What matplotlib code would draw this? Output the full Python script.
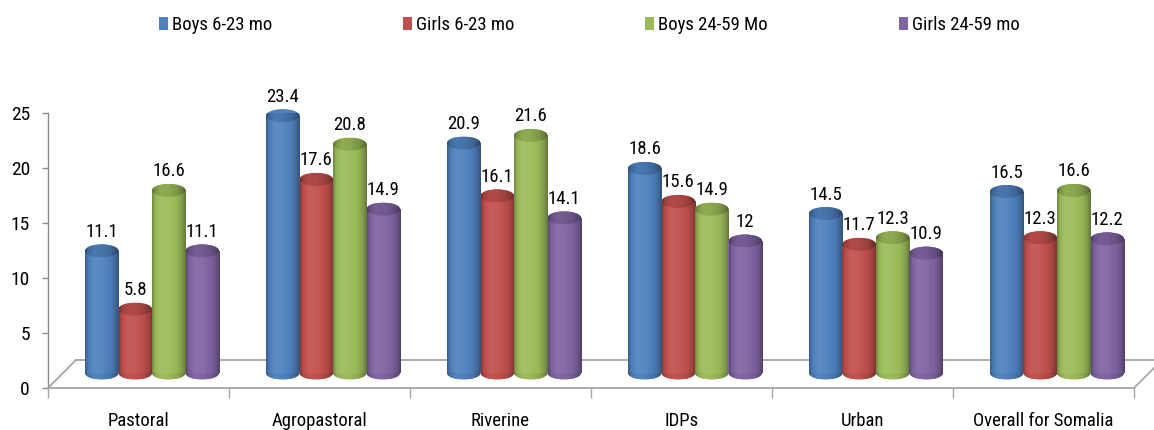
import numpy as np
import matplotlib
matplotlib.use("Agg")
import matplotlib.pyplot as plt
import matplotlib.transforms as mtransforms
from matplotlib.patches import Ellipse, Rectangle
from matplotlib.lines import Line2D
from matplotlib.colors import to_rgb

plt.rcParams["font.family"] = ["Roboto Condensed", "DejaVu Sans"]

# ---- data -------------------------------------------------------------
categories = ["Pastoral", "Agropastoral", "Riverine", "IDPs", "Urban", "Overall for Somalia"]
series_names = ["Boys 6-23 mo", "Girls 6-23 mo", "Boys 24-59 Mo", "Girls 24-59 mo"]
boys_6_23 = [11.1, 23.4, 20.9, 18.6, 14.5, 16.5]
girls_6_23 = [5.8, 17.6, 16.1, 15.6, 11.7, 12.3]
boys_24_59 = [16.6, 20.8, 21.6, 14.9, 12.3, 16.6]
girls_24_59 = [11.1, 14.9, 14.1, 12, 10.9, 12.2]
y_ticks = [0, 5, 10, 15, 20, 25]

series_values = [boys_6_23, girls_6_23, boys_24_59, girls_24_59]
colors = ["#4F81BD", "#C0504D", "#9BBB59", "#8064A2"]

# ---- figure -----------------------------------------------------------
W, H = 1154, 430
DPI = 100
fig = plt.figure(figsize=(W / DPI, H / DPI), dpi=DPI)
ax = fig.add_axes([48 / W, (H - 388) / H, 1086 / W, 275 / H])
ax.set_xlim(0, len(categories))
ax.set_ylim(0, 25)

FS = 13.5
AXIS_GREY = "#8C8C8C"
FLOOR_GREY = "#A6A6A6"
px_per_unit = ax.bbox.height / 25.0
n = len(categories)

# depth offsets (pixels) for the pseudo-3D look
DEPTH = 28
BAR_DX, BAR_DY = 13.5, 15
shift = ax.transData + mtransforms.ScaledTranslation(BAR_DX / DPI, BAR_DY / DPI, fig.dpi_scale_trans)
back = ax.transData + mtransforms.ScaledTranslation(DEPTH / DPI, DEPTH / DPI, fig.dpi_scale_trans)

# floor outline: back edge plus the two side edges
ax.add_line(Line2D([0, n + 1], [0, 0], transform=back, color=FLOOR_GREY, lw=1.3,
                   clip_on=False, zorder=1))
for xe in (0, n):
    p0 = ax.transData.transform((xe, 0))
    p1 = back.transform((xe, 0))
    ax.add_line(Line2D([p0[0], p1[0]], [p0[1], p1[1]], transform=None, color=FLOOR_GREY,
                       lw=1.3, clip_on=False, zorder=1))


def shaded_strip(rgb, offset=0.0, n=64):
    """Horizontal light/shade profile that makes a flat bar read as a cylinder."""
    t = np.linspace(0, 1, n)
    k = np.interp(t, [0, 0.08, 0.25, 0.5, 0.75, 0.9, 1.0],
                  [-0.28, -0.05, 0.08, 0.06, -0.04, -0.18, -0.36]) + offset
    rgb = np.array(rgb)
    kk = k[:, None]
    out = np.where(kk >= 0, rgb + (1 - rgb) * kk, rgb * (1 + kk))
    return np.clip(out, 0, 1)[None, :, :]


def gradient_fill(patch, x0, x1, y0, y1, strip, z):
    im = ax.imshow(strip, extent=(x0, x1, y0, y1), aspect="auto", transform=shift,
                   zorder=z, interpolation="bilinear")
    im.set_clip_path(patch)


bar_w = 33.5 / (ax.bbox.width / n)
ell_h = 13 / px_per_unit
centers = np.arange(n) + 0.5
label_trans = shift + mtransforms.ScaledTranslation(0, 14 / DPI, fig.dpi_scale_trans)

for i, (vals, col) in enumerate(zip(series_values, colors)):
    rgb = to_rgb(col)
    xs = centers + (i - 1.5) * bar_w
    base_z = 2 + i * 0.1
    bars = ax.bar(xs, vals, width=bar_w, color=col, linewidth=0, transform=shift,
                  zorder=base_z + 0.02, clip_on=False)
    body_strip = shaded_strip(rgb)
    bottom_strip = shaded_strip(rgb, offset=-0.06)
    top_strip = shaded_strip(rgb, offset=-0.16)
    for x, v, rect in zip(xs, vals, bars):
        x0, x1 = x - bar_w / 2, x + bar_w / 2
        # rounded bottom
        bottom = Ellipse((x, 0), bar_w, ell_h, transform=shift, facecolor=col,
                         linewidth=0, zorder=base_z + 0.01, clip_on=False)
        ax.add_patch(bottom)
        gradient_fill(bottom, x0, x1, -ell_h / 2, ell_h / 2, bottom_strip, base_z + 0.01)
        # cylinder body
        gradient_fill(rect, x0, x1, 0, v, body_strip, base_z + 0.02)
        # top cap
        top = Ellipse((x, v), bar_w, ell_h, transform=shift, facecolor=col,
                      linewidth=0, zorder=base_z + 0.03, clip_on=False)
        ax.add_patch(top)
        gradient_fill(top, x0, x1, v - ell_h / 2, v + ell_h / 2, top_strip, base_z + 0.03)
        ax.text(x, v, f"{v:g}", transform=label_trans, ha="center", va="baseline",
                fontsize=FS, color="black", zorder=5)

ax.set_xlim(0, n)
ax.set_ylim(0, 25)
ax.set_aspect("auto")

# axes styling
for side in ("top", "right"):
    ax.spines[side].set_visible(False)
ax.spines["left"].set_color(AXIS_GREY)
ax.spines["bottom"].set_color(FLOOR_GREY)
ax.spines["left"].set_linewidth(1.0)
ax.spines["bottom"].set_linewidth(1.3)

ax.set_yticks(y_ticks)
ax.set_yticklabels([str(t) for t in y_ticks])
ax.tick_params(axis="y", length=4, width=1, color=AXIS_GREY, pad=9, labelsize=FS + 0.5)

ax.set_xticks(centers)
ax.set_xticklabels(categories)
ax.set_xticks(np.arange(n + 1), minor=True)
ax.tick_params(axis="x", which="major", length=0, pad=17.5, labelsize=FS)
ax.tick_params(axis="x", which="minor", length=7, width=1, color=FLOOR_GREY)

# legend
em = FS * DPI / 72.0
handles = [Rectangle((0, 0), 1, 1, facecolor=c, edgecolor="none") for c in colors]
fig.legend(handles, series_names, loc="center", bbox_to_anchor=(589 / W, 1 - 25 / H),
           ncol=4, frameon=False, fontsize=FS, handlelength=9 / em, handleheight=14 / em,
           handletextpad=4 / em, columnspacing=131 / em, borderpad=0, borderaxespad=0)

fig.savefig("out.png", dpi=DPI)
